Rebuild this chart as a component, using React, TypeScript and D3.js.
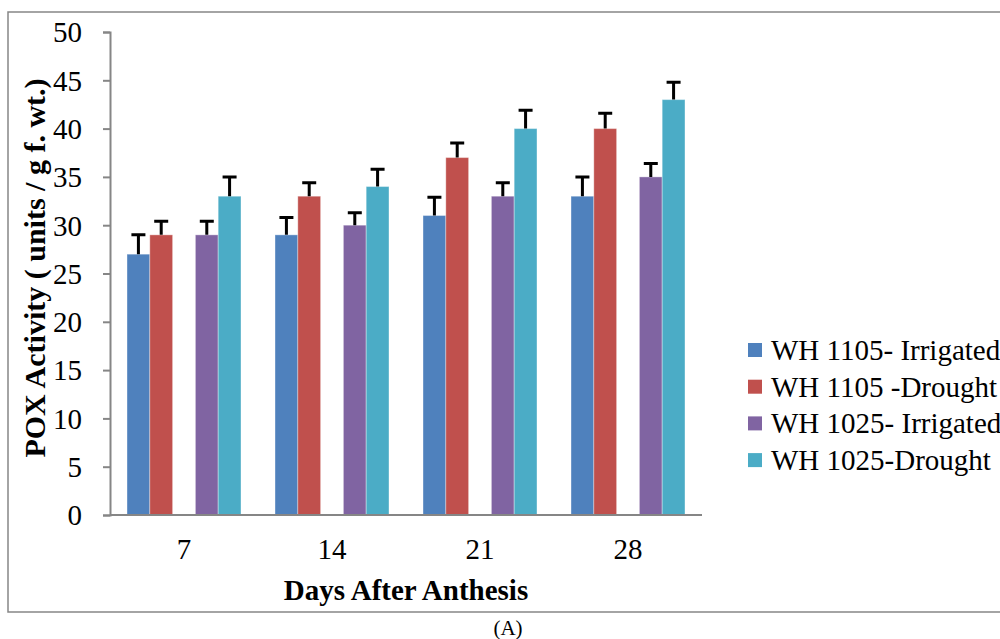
import React, { useEffect, useRef } from 'react';
import * as d3 from 'd3';

// chart data
const days = ['7', '14', '21', '28'];
const seriesNames = ['WH 1105- Irrigated', 'WH 1105 -Drought', 'WH 1025- Irrigated', 'WH 1025-Drought'];
const seriesColors = ['#4F81BD', '#C0504D', '#8064A2', '#4BACC6'];
const wh1105Irrigated = [27, 29, 31, 33];
const wh1105Drought = [29, 33, 37, 40];
const wh1025Irrigated = [29, 30, 33, 35];
const wh1025Drought = [33, 34, 40, 43];
const errIrrigated1105 = [2, 1.8, 1.9, 2];
const errDrought1105 = [1.4, 1.4, 1.5, 1.6];
const errIrrigated1025 = [1.4, 1.3, 1.4, 1.4];
const errDrought1025 = [2, 1.8, 1.9, 1.8];
const yTicks = [0, 5, 10, 15, 20, 25, 30, 35, 40, 45, 50];

const FONT = '"Liberation Serif", "Times New Roman", serif';

export default function App() {
  const svgRef = useRef<SVGSVGElement | null>(null);

  useEffect(() => {
    const svg = d3.select(svgRef.current);
    svg.selectAll('*').remove();

    const values = [wh1105Irrigated, wh1105Drought, wh1025Irrigated, wh1025Drought];
    const errors = [errIrrigated1105, errDrought1105, errIrrigated1025, errDrought1025];
    // the 3rd slot in every group is left empty, like in the original
    const slots = [0, 1, 3, 4];

    // outer frame
    svg.append('rect')
      .attr('x', 8).attr('y', 12)
      .attr('width', 1010).attr('height', 600)
      .attr('fill', 'none')
      .attr('stroke', '#868686')
      .attr('stroke-width', 1.5);

    const x = d3.scaleBand<string>()
      .domain(days)
      .range([110, 702])
      .paddingInner(0.23)
      .paddingOuter(0.115);

    const xSlot = d3.scaleBand<number>()
      .domain([0, 1, 2, 3, 4])
      .range([0, x.bandwidth()]);

    const y = d3.scaleLinear().domain([0, 50]).range([515, 32]);

    // y axis
    const yAxis = svg.append('g')
      .attr('transform', 'translate(110,0)')
      .call(d3.axisLeft(y).tickValues(yTicks).tickSize(7).tickPadding(21));
    yAxis.select('.domain').attr('stroke', '#868686').attr('stroke-width', 2);
    yAxis.selectAll('.tick line').attr('stroke', '#868686').attr('stroke-width', 2);
    yAxis.selectAll('.tick text')
      .attr('font-family', FONT)
      .attr('font-size', 29)
      .attr('fill', '#000')
      .attr('dy', '0.34em');

    // bars
    values.forEach((vals, s) => {
      const g = svg.append('g');
      g.selectAll('rect')
        .data(vals)
        .enter()
        .append('rect')
        .attr('x', (d, i) => x(days[i])! + xSlot(slots[s])!)
        .attr('y', (d) => y(d))
        .attr('width', xSlot.bandwidth())
        .attr('height', (d) => y(0) - y(d))
        .attr('fill', seriesColors[s])
        .attr('stroke', '#ffffff')
        .attr('stroke-opacity', 0.35)
        .attr('stroke-width', 1);

      // error bars (upper only)
      g.selectAll('path.err')
        .data(vals)
        .enter()
        .append('path')
        .attr('class', 'err')
        .attr('d', (d, i) => {
          const cx = x(days[i])! + xSlot(slots[s])! + xSlot.bandwidth() / 2;
          const top = y(d + errors[s][i]);
          return `M${cx},${y(d)}V${top}M${cx - 7},${top}H${cx + 7}`;
        })
        .attr('stroke', '#000')
        .attr('stroke-width', 3)
        .attr('fill', 'none');
    });

    // x axis line
    svg.append('line')
      .attr('x1', 110).attr('x2', 702)
      .attr('y1', y(0)).attr('y2', y(0))
      .attr('stroke', '#868686')
      .attr('stroke-width', 2);

    svg.selectAll('text.xlab')
      .data(days)
      .enter()
      .append('text')
      .attr('class', 'xlab')
      .attr('x', (d) => x(d)! + x.bandwidth() / 2)
      .attr('y', 559)
      .attr('text-anchor', 'middle')
      .attr('font-family', FONT)
      .attr('font-size', 29)
      .text((d) => d);

    // axis titles
    svg.append('text')
      .attr('x', 406)
      .attr('y', 600)
      .attr('text-anchor', 'middle')
      .attr('font-family', FONT)
      .attr('font-weight', 'bold')
      .attr('font-size', 29)
      .text('Days After Anthesis');

    svg.append('text')
      .attr('transform', 'translate(45,268) rotate(-90)')
      .attr('text-anchor', 'middle')
      .attr('font-family', FONT)
      .attr('font-weight', 'bold')
      .attr('font-size', 30)
      .text('POX Activity ( units / g f. wt.)');

    // legend
    const legend = svg.append('g');
    seriesNames.forEach((name, i) => {
      const cy = 350 + i * 36.7;
      legend.append('rect')
        .attr('x', 748).attr('y', cy - 7)
        .attr('width', 14).attr('height', 14)
        .attr('fill', seriesColors[i]);
      legend.append('text')
        .attr('x', 771)
        .attr('y', cy + 10)
        .attr('font-family', FONT)
        .attr('font-size', 29)
        .text(name);
    });

    // caption
    svg.append('text')
      .attr('x', 508)
      .attr('y', 635)
      .attr('text-anchor', 'middle')
      .attr('font-family', FONT)
      .attr('font-size', 21)
      .text('(A)');
  }, []);

  return (
    <div>
      <svg
        ref={svgRef}
        width={1000}
        height={639}
        style={{ position: 'absolute', left: 0, top: 0, background: '#fff' }}
      />
    </div>
  );
}
